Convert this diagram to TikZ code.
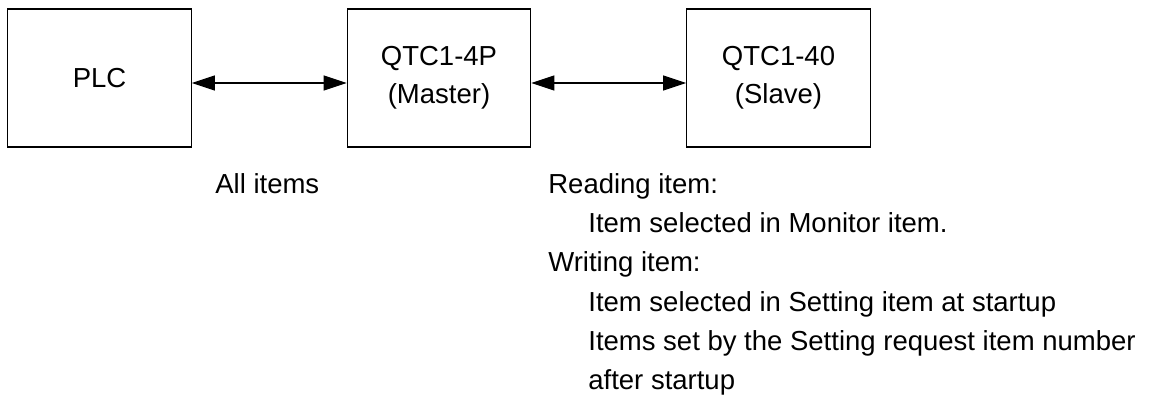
\documentclass[tikz,border=0pt]{standalone}
\usepackage{fontspec}
\setmainfont{Liberation Sans}
\usetikzlibrary{arrows.meta}

\begin{document}
\begin{tikzpicture}[
  font=\fontsize{15.65}{21.6}\selectfont,
  unit/.style={draw, line width=0.6pt, minimum width=3.67cm, minimum height=2.76cm, align=center, inner sep=0pt},
  note/.style={anchor=north west, align=left, inner sep=0pt, font=\fontsize{15.65}{22.37}\selectfont},
  >={Triangle[length=0.46cm, width=0.3cm]}
]
\useasboundingbox (0,0) rectangle (23,-7.92);
\node[unit] (PLC) at (1.99,-1.56) {PLC};
\node[unit] (Master) at (8.78,-1.56) {QTC1-4P\\(Master)};
\node[unit] (Slave) at (15.57,-1.56) {QTC1-40\\(Slave)};
\draw[<->, line width=0.6pt] ([yshift=-0.1cm]PLC.east) -- ([yshift=-0.1cm]Master.west);
\draw[<->, line width=0.6pt] ([yshift=-0.1cm]Master.east) -- ([yshift=-0.1cm]Slave.west);
\node[note] (AllItems) at (4.3,-3.46) {All items};
\node[note] (Items) at (10.96,-3.46) {Reading item:\\
  \hspace*{0.8cm}Item selected in Monitor item.\\
  Writing item:\\
  \hspace*{0.8cm}Item selected in Setting item at startup\\
  \hspace*{0.8cm}Items set by the Setting request item number\\
  \hspace*{0.8cm}after startup};
\end{tikzpicture}
\end{document}
